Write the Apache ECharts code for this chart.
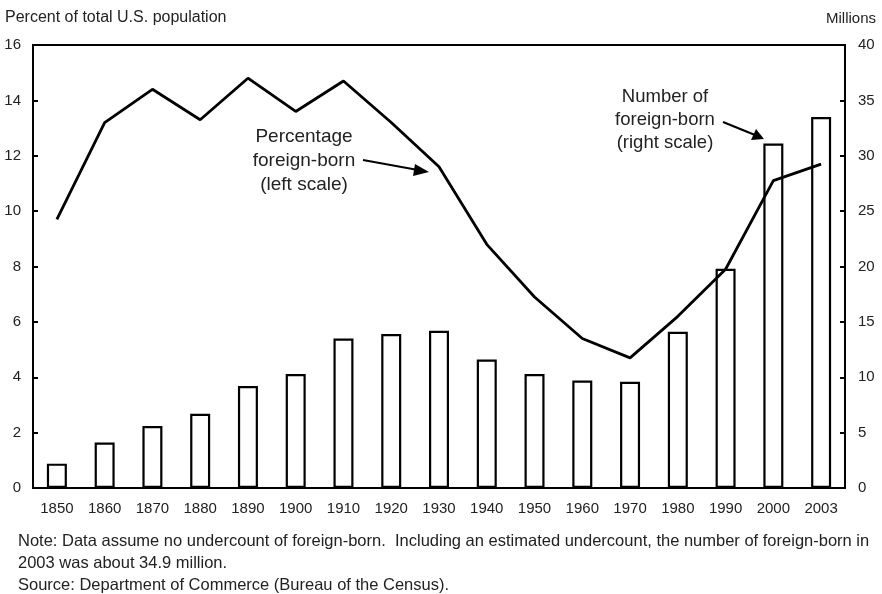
<!DOCTYPE html>
<html>
<head>
<meta charset="utf-8">
<script src="https://cdn.jsdelivr.net/npm/echarts@6/dist/echarts.min.js"></script>
<style>
html,body{margin:0;padding:0;background:#fff;}
#c{width:882px;height:594px;}
</style>
</head>
<body>
<div id="c"></div>
<script>
var years = ['1850','1860','1870','1880','1890','1900','1910','1920','1930','1940','1950','1960','1970','1980','1990','2000','2003'];
var foreignBornMillions = [2.2, 4.1, 5.6, 6.7, 9.2, 10.3, 13.5, 13.9, 14.2, 11.6, 10.3, 9.7, 9.6, 14.1, 19.8, 31.1, 33.5];
var percentForeignBorn = [9.7, 13.2, 14.4, 13.3, 14.8, 13.6, 14.7, 13.2, 11.6, 8.8, 6.9, 5.4, 4.7, 6.2, 7.9, 11.1, 11.7];
var leftTicks = [0, 2, 4, 6, 8, 10, 12, 14, 16];
var rightTicks = [0, 5, 10, 15, 20, 25, 30, 35, 40];

var FONT = 'Liberation Sans, Arial, sans-serif';
var chart = echarts.init(document.getElementById('c'), null, {renderer: 'canvas'});
chart.setOption({
  animation: false,
  backgroundColor: '#ffffff',
  textStyle: {fontFamily: FONT},
  grid: {left: 33, right: 37, top: 45, bottom: 106, show: true, borderColor: '#000', borderWidth: 2, backgroundColor: 'transparent'},
  xAxis: {
    type: 'category',
    data: years,
    boundaryGap: true,
    axisLine: {lineStyle: {color: '#000', width: 2}},
    axisTick: {show: false},
    axisLabel: {color: '#222', fontSize: 15, fontFamily: FONT, margin: 13}
  },
  yAxis: [
    {
      type: 'value', min: leftTicks[0], max: leftTicks[leftTicks.length-1], interval: 2,
      position: 'left',
      name: 'Percent of total U.S. population',
      nameLocation: 'end', nameGap: 19,
      nameTextStyle: {color: '#222', fontSize: 16, align: 'left', padding: [0,0,0,-28], fontFamily: FONT},
      axisLine: {show: true, lineStyle: {color: '#000', width: 2}},
      axisTick: {show: true, inside: true, length: 5, lineStyle: {color: '#000', width: 2}},
      axisLabel: {color: '#222', fontSize: 15, margin: 12, fontFamily: FONT},
      splitLine: {show: false}
    },
    {
      type: 'value', min: rightTicks[0], max: rightTicks[rightTicks.length-1], interval: 5,
      position: 'right',
      name: 'Millions',
      nameLocation: 'end', nameGap: 19,
      nameTextStyle: {color: '#222', fontSize: 15, align: 'right', padding: [0,-31,0,0], fontFamily: FONT},
      axisLine: {show: true, lineStyle: {color: '#000', width: 2}},
      axisTick: {show: true, inside: true, length: 5, lineStyle: {color: '#000', width: 2}},
      axisLabel: {color: '#222', fontSize: 15, margin: 13, fontFamily: FONT},
      splitLine: {show: false}
    }
  ],
  series: [
    {
      type: 'bar', yAxisIndex: 1, data: foreignBornMillions, barWidth: 20,
      itemStyle: {color: '#fff', borderColor: '#000', borderWidth: 2.2}
    },
    {
      type: 'line', yAxisIndex: 0, data: percentForeignBorn, showSymbol: false, symbol: 'none',
      lineStyle: {color: '#000', width: 2.8}, z: 5
    }
  ],
  graphic: [
    {type: 'text', x: 304, y: 125, style: {text: 'Percentage\nforeign-born\n(left scale)', align: 'center', fill: '#222', font: '19px ' + FONT, lineHeight: 24}},
    {type: 'line', shape: {x1: 363, y1: 160, x2: 418, y2: 170}, style: {stroke: '#000', lineWidth: 2.2}},
    {type: 'polygon', shape: {points: [[429, 172], [415, 164], [413, 176]]}, style: {fill: '#000'}},
    {type: 'text', x: 665, y: 85, style: {text: 'Number of\nforeign-born\n(right scale)', align: 'center', fill: '#222', font: '18.5px ' + FONT, lineHeight: 23}},
    {type: 'line', shape: {x1: 723, y1: 122, x2: 755, y2: 135}, style: {stroke: '#000', lineWidth: 2.2}},
    {type: 'polygon', shape: {points: [[764, 139], [756, 129], [751, 140]]}, style: {fill: '#000'}},
    {type: 'text', x: 18, y: 530, style: {text: 'Note: Data assume no undercount of foreign-born.  Including an estimated undercount, the number of foreign-born in\n2003 was about 34.9 million.\nSource: Department of Commerce (Bureau of the Census).', fill: '#222', font: '16.5px ' + FONT, lineHeight: 22}}
  ]
});
</script>
</body>
</html>
